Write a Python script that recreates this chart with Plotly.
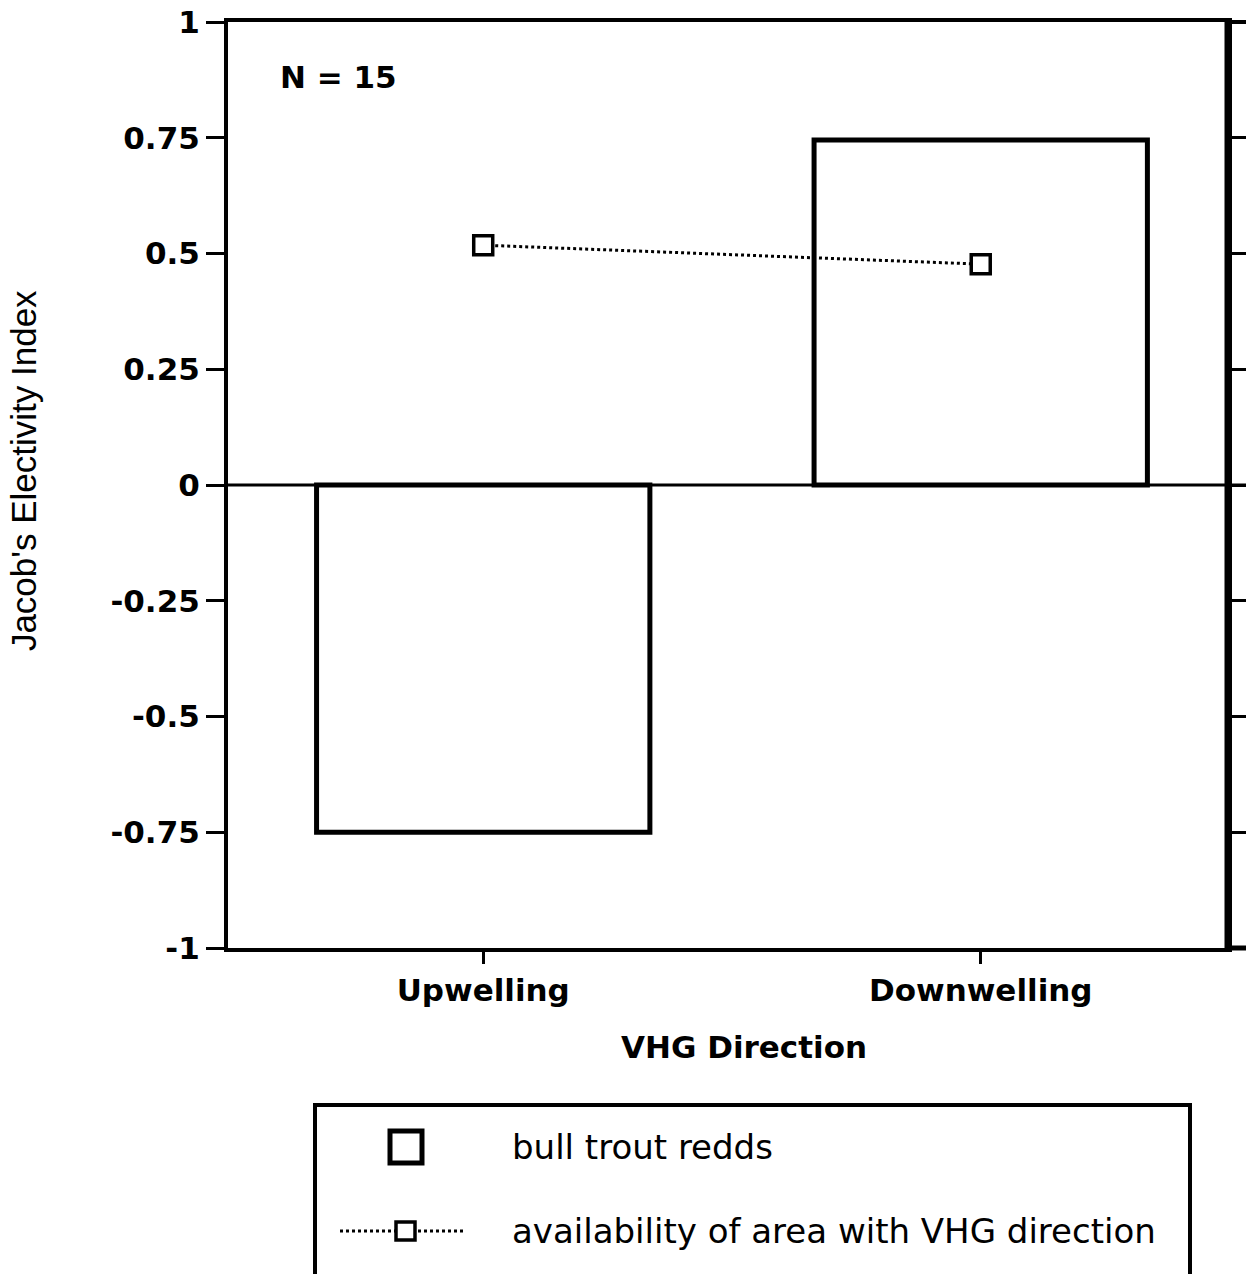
import plotly.graph_objects as go

# VHG direction categories and electivity values
categories = ["Upwelling", "Downwelling"]
redds_index = [-0.75, 0.745]
availability = [0.518, 0.477]
y_ticks = [1, 0.75, 0.5, 0.25, 0, -0.25, -0.5, -0.75, -1]
y_tick_labels = ["1", "0.75", "0.5", "0.25", "0", "-0.25", "-0.5", "-0.75", "-1"]
legend_names = ["bull trout redds", "availability of area with VHG direction"]

BOLD = dict(family="DejaVu Sans", size=31, color="black", weight="bold")
REG = dict(family="DejaVu Sans", size=34, color="black")

fig = go.Figure()

fig.add_trace(go.Bar(
    x=categories,
    y=redds_index,
    width=0.67,
    marker=dict(color="white", line=dict(color="black", width=5)),
    name=legend_names[0],
    showlegend=False,
))

fig.add_trace(go.Scatter(
    x=categories,
    y=availability,
    mode="lines+markers",
    line=dict(color="black", width=3, dash="dot"),
    marker=dict(symbol="square", size=19, color="white", line=dict(color="black", width=3.5)),
    name=legend_names[1],
    showlegend=False,
))

shapes = [
    # zero line running out past the right frame
    dict(type="line", xref="paper", yref="y", x0=0, x1=1.02, y0=0, y1=0,
         line=dict(color="black", width=3), layer="above"),
    # heavy right frame and stubs beyond it
    dict(type="line", xref="paper", yref="paper", x0=1, x1=1, y0=0, y1=1,
         line=dict(color="black", width=7)),
    dict(type="line", xref="paper", yref="paper", x0=1, x1=1.02, y0=1, y1=1,
         line=dict(color="black", width=4)),
    dict(type="line", xref="paper", yref="paper", x0=1, x1=1.02, y0=0, y1=0,
         line=dict(color="black", width=5)),
    # legend box
    dict(type="rect", xref="paper", yref="paper", x0=0.087, x1=0.962, y0=-0.40, y1=-0.1695,
         line=dict(color="black", width=4), fillcolor="rgba(0,0,0,0)"),
    # legend symbol: bar
    dict(type="rect", xref="paper", yref="paper", x0=0.162, x1=0.194, y0=-0.1976, y1=-0.2322,
         line=dict(color="black", width=5), fillcolor="white"),
    # legend symbol: dotted line with open square
    dict(type="line", xref="paper", yref="paper", x0=0.112, x1=0.238, y0=-0.3056, y1=-0.3056,
         line=dict(color="black", width=3, dash="dot")),
    dict(type="rect", xref="paper", yref="paper", x0=0.168, x1=0.187, y0=-0.2958, y1=-0.3154,
         line=dict(color="black", width=3.5), fillcolor="white"),
]

annotations = [
    dict(text="N = 15", xref="paper", yref="paper", x=0.05, y=0.9406,
         xanchor="left", yanchor="middle", showarrow=False, font=BOLD),
    dict(text="VHG Direction", xref="paper", yref="paper", x=0.516, y=-0.107,
         xanchor="center", yanchor="middle", showarrow=False, font=BOLD),
    dict(text="Jacob's Electivity Index", xref="paper", yref="paper", x=-0.205, y=0.515,
         xanchor="center", yanchor="middle", textangle=-90, showarrow=False,
         font=dict(family="Liberation Sans", size=35, color="black")),
    dict(text=legend_names[0], xref="paper", yref="paper", x=0.282, y=-0.2149,
         xanchor="left", yanchor="middle", showarrow=False, font=REG),
    dict(text=legend_names[1], xref="paper", yref="paper", x=0.282, y=-0.3056,
         xanchor="left", yanchor="middle", showarrow=False, font=REG),
]

fig.update_layout(
    width=1246,
    height=1274,
    margin=dict(l=228, r=18, t=22, b=326),
    paper_bgcolor="white",
    plot_bgcolor="white",
    showlegend=False,
    shapes=shapes,
    annotations=annotations,
    xaxis=dict(
        range=[-0.513, 1.497], automargin=False,
        showline=True, linecolor="black", linewidth=4, mirror=True,
        ticks="outside", ticklen=12, tickwidth=3, tickcolor="black",
        tickfont=BOLD, showgrid=False, zeroline=False,
    ),
    yaxis=dict(
        range=[-1, 1], automargin=False,
        tickvals=y_ticks, ticktext=y_tick_labels,
        showline=True, linecolor="black", linewidth=4, mirror="ticks",
        ticks="outside", ticklen=18, tickwidth=3, tickcolor="black",
        tickfont=BOLD, showgrid=False, zeroline=False,
    ),
)

fig.write_html("out.html", config={"displayModeBar": False},
               post_script="document.body.style.margin='0';")
